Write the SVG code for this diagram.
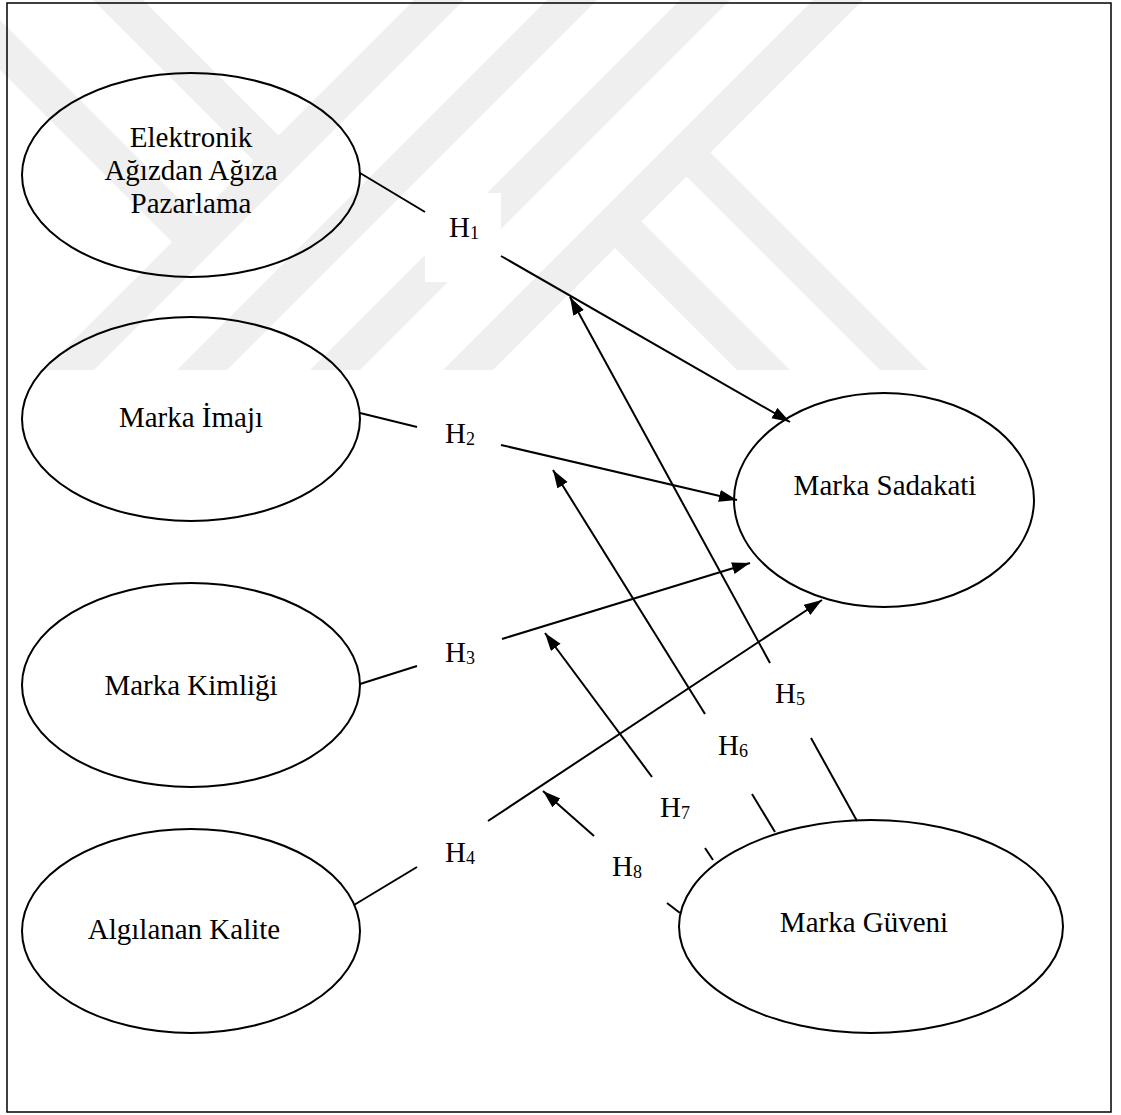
<svg xmlns="http://www.w3.org/2000/svg" width="1121" height="1115" viewBox="0 0 1121 1115">
<style>
.wm{fill:#efefef}
.node ellipse{fill:none;stroke:#000;stroke-width:2}
.t{font-family:"Liberation Serif","Times New Roman",serif;font-size:29px;fill:#000;text-anchor:middle}
.h{font-family:"Liberation Serif","Times New Roman",serif;font-size:29px;fill:#000}
.sub{font-size:18px}
.conn line{stroke:#000;stroke-width:2;fill:none}
.frame{fill:none;stroke:#000;stroke-width:1.5}
</style>
<defs>
<marker id="ah" markerUnits="userSpaceOnUse" markerWidth="20" markerHeight="14" refX="18" refY="6" orient="auto">
<path d="M0,0 L18,6 L0,12 z" fill="#000"/>
</marker>
<clipPath id="wmclip"><rect x="0" y="0" width="1121" height="370"/></clipPath>
</defs>
<rect width="1121" height="1115" fill="#fff"/>
<g id="watermark" clip-path="url(#wmclip)">
<polygon class="wm" points="813,0 863,0 493,370 443,370"/>
<polygon class="wm" points="680,0 730,0 360,370 310,370"/>
<polygon class="wm" points="547,0 597,0 227,370 177,370"/>
<polygon class="wm" points="414,0 464,0 94,370 44,370"/>
<polygon class="wm" points="680,170 704,146 928,370 880,370"/>
<polygon class="wm" points="609,242 635,215 790,370 737,370"/>
<polygon class="wm" points="93,0 143,0 284,141 259,166"/>
<polygon class="wm" points="-70,0 -20,0 202,222 177,247"/>
</g>
<rect class="frame" x="7" y="3" width="1104" height="1109"/>
<rect id="h1box" x="425" y="193" width="76" height="89" fill="#fff"/>
<g id="n1" class="node"><ellipse cx="191" cy="175" rx="169" ry="102"/>
<text class="t" x="191" y="147">Elektronik</text>
<text class="t" x="191" y="180">Ağızdan Ağıza</text>
<text class="t" x="191" y="213">Pazarlama</text></g>
<g id="n2" class="node"><ellipse cx="191" cy="419" rx="169" ry="102"/>
<text class="t" x="191" y="427">Marka İmajı</text></g>
<g id="n3" class="node"><ellipse cx="191" cy="685" rx="169" ry="102"/>
<text class="t" x="191" y="695">Marka Kimliği</text></g>
<g id="n4" class="node"><ellipse cx="191" cy="931" rx="169" ry="102"/>
<text class="t" x="184" y="939">Algılanan Kalite</text></g>
<g id="n5" class="node"><ellipse cx="884" cy="500" rx="150" ry="107"/>
<text class="t" x="885" y="495">Marka Sadakati</text></g>
<g id="n6" class="node"><ellipse cx="871" cy="926.5" rx="192" ry="106.5"/>
<text class="t" x="864" y="932">Marka Güveni</text></g>
<g id="connectors" class="conn">
<line x1="360" y1="173" x2="425" y2="212"/>
<line x1="501" y1="256" x2="790" y2="422" marker-end="url(#ah)"/>
<line x1="360" y1="413" x2="417" y2="427"/>
<line x1="501" y1="445" x2="737" y2="500" marker-end="url(#ah)"/>
<line x1="360" y1="684" x2="417" y2="666"/>
<line x1="502" y1="639" x2="750" y2="563" marker-end="url(#ah)"/>
<line x1="354" y1="905" x2="417" y2="867"/>
<line x1="488" y1="821" x2="822" y2="600" marker-end="url(#ah)"/>
<line x1="857" y1="821" x2="811" y2="738"/>
<line x1="770" y1="663" x2="570" y2="297" marker-end="url(#ah)"/>
<line x1="775" y1="832" x2="752" y2="794"/>
<line x1="705" y1="714" x2="553" y2="470" marker-end="url(#ah)"/>
<line x1="713" y1="860" x2="705" y2="848"/>
<line x1="652" y1="777" x2="545" y2="633" marker-end="url(#ah)"/>
<line x1="680" y1="913" x2="667" y2="903"/>
<line x1="594" y1="836" x2="543" y2="791" marker-end="url(#ah)"/>
</g>
<g id="labels">
<text class="h" x="449" y="237">H<tspan class="sub" dy="2">1</tspan></text>
<text class="h" x="445" y="443">H<tspan class="sub" dy="2">2</tspan></text>
<text class="h" x="445" y="662">H<tspan class="sub" dy="2">3</tspan></text>
<text class="h" x="445" y="862">H<tspan class="sub" dy="2">4</tspan></text>
<text class="h" x="775" y="703">H<tspan class="sub" dy="2">5</tspan></text>
<text class="h" x="718" y="755">H<tspan class="sub" dy="2">6</tspan></text>
<text class="h" x="660" y="817">H<tspan class="sub" dy="2">7</tspan></text>
<text class="h" x="612" y="876">H<tspan class="sub" dy="2">8</tspan></text>
</g>
</svg>
